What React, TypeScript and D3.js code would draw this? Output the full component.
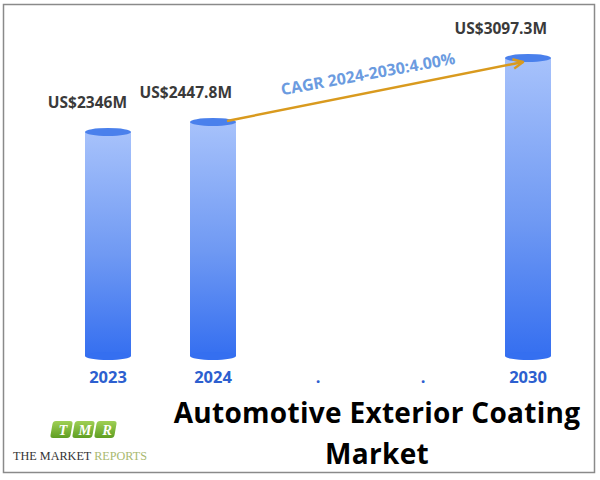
import React from "react";
import * as d3 from "d3";

const categories = ["2023", "2024", "gap1", "gap2", "2030"];
const categoryLabels = ["2023", "2024", ".", ".", "2030"];
const values: (number | null)[] = [2346, 2447.8, null, null, 3097.3];
const valueLabels = ["US$2346M", "US$2447.8M", "", "", "US$3097.3M"];
const cagrText = "CAGR 2024-2030:4.00%";
const titleLines = ["Automotive Exterior Coating", "Market"];

const W = 600;
const H = 480;
const barW = 46;
const baseY = 356;

export default function App() {
  const x = d3.scalePoint<string>().domain(categories).range([108, 528]);
  const y = d3.scaleLinear().domain([0, 3097.3]).range([363, 58]);

  const i24 = 1;
  const i30 = 4;
  const sx = (x(categories[i24]) as number) + 14;
  const sy = y(values[i24] as number) - 1;
  const ex = (x(categories[i30]) as number) - 5;
  const ey = y(values[i30] as number) + 4;
  const ang = Math.atan2(ey - sy, ex - sx);
  const angDeg = (ang * 180) / Math.PI;
  const ah = 11;
  const a1x = ex - ah * Math.cos(ang - 0.45);
  const a1y = ey - ah * Math.sin(ang - 0.45);
  const a2x = ex - ah * Math.cos(ang + 0.45);
  const a2y = ey - ah * Math.sin(ang + 0.45);

  const logoBoxes = ["T", "M", "R"];

  return (
    <svg
      width={W}
      height={H}
      style={{ position: "absolute", left: 0, top: 0, background: "#fff" }}
    >
      <defs>
        <linearGradient id="barGrad" x1="0" y1="0" x2="0" y2="1">
          <stop offset="0%" stopColor="#a7c2fb" />
          <stop offset="55%" stopColor="#6f99f3" />
          <stop offset="100%" stopColor="#356ff0" />
        </linearGradient>
        <linearGradient id="logoGrad" x1="0" y1="0" x2="0" y2="1">
          <stop offset="0%" stopColor="#9fd055" />
          <stop offset="100%" stopColor="#5f9e22" />
        </linearGradient>
      </defs>
      <rect x={0} y={0} width={W} height={H} fill="#fff" />
      <rect
        x={3.5}
        y={4.5}
        width={591}
        height={468}
        fill="none"
        stroke="#8a8a8a"
        strokeWidth={1.5}
      />

      {categories.map((c, i) => {
        const v = values[i];
        const cx = x(c) as number;
        if (v == null) return null;
        const top = y(v);
        return (
          <g key={c}>
            <rect
              x={cx - barW / 2}
              y={top}
              width={barW}
              height={baseY - top}
              fill="url(#barGrad)"
            />
            <ellipse cx={cx} cy={baseY} rx={barW / 2} ry={4} fill="#356ff0" />
            <ellipse cx={cx} cy={top} rx={barW / 2} ry={4} fill="#4a80ec" />
            <text
              x={cx + barW / 2 - 4}
              y={top - 24}
              textAnchor="end"
              fontFamily="'Open Sans', sans-serif"
              fontWeight={700}
              fontSize={15.5}
              fill="#3a3a3a"
            >
              {valueLabels[i]}
            </text>
          </g>
        );
      })}

      {categories.map((c, i) => (
        <text
          key={"l" + c}
          x={x(c) as number}
          y={383}
          textAnchor="middle"
          fontFamily="'Open Sans', sans-serif"
          fontWeight={700}
          fontSize={16.5}
          fill="#2d5fcf"
        >
          {categoryLabels[i]}
        </text>
      ))}

      <line
        x1={sx}
        y1={sy}
        x2={ex}
        y2={ey}
        stroke="#d99a1e"
        strokeWidth={2.5}
      />
      <polyline
        points={`${a1x},${a1y} ${ex},${ey} ${a2x},${a2y}`}
        fill="none"
        stroke="#d99a1e"
        strokeWidth={2.5}
        strokeLinejoin="round"
      />
      <text
        transform={`translate(${(sx + ex) / 2 - 6},${(sy + ey) / 2 - 12}) rotate(${angDeg + 1})`}
        textAnchor="middle"
        fontFamily="'Open Sans', sans-serif"
        fontWeight={700}
        fontSize={16}
        fill="#6b9be0"
      >
        {cagrText}
      </text>

      {titleLines.map((t, i) => (
        <text
          key={t}
          x={377}
          y={423 + i * 41}
          textAnchor="middle"
          fontFamily="'Open Sans', sans-serif"
          fontWeight={700}
          fontSize={28}
          letterSpacing={0.3}
          fill="#000"
        >
          {t}
        </text>
      ))}

      <g>
        {logoBoxes.map((l, i) => {
          const bx = 53 + i * 22;
          return (
            <g key={l}>
              <rect
                x={bx}
                y={421}
                width={20}
                height={17}
                rx={3}
                fill="url(#logoGrad)"
                transform={`skewX(-10) translate(${421 * Math.tan((10 * Math.PI) / 180)},0)`}
              />
              <text
                x={bx + 10}
                y={434.5}
                textAnchor="middle"
                fontFamily="'Liberation Serif', serif"
                fontStyle="italic"
                fontWeight={700}
                fontSize={14.5}
                fill="#fff"
              >
                {l}
              </text>
            </g>
          );
        })}
        <text
          x={13}
          y={460}
          fontFamily="'Liberation Serif', serif"
          fontSize={13}
          fill="#333"
          textLength={134}
          lengthAdjust="spacingAndGlyphs"
        >
          THE MARKET <tspan fill="#a9b96f">REPORTS</tspan>
        </text>
      </g>
    </svg>
  );
}
